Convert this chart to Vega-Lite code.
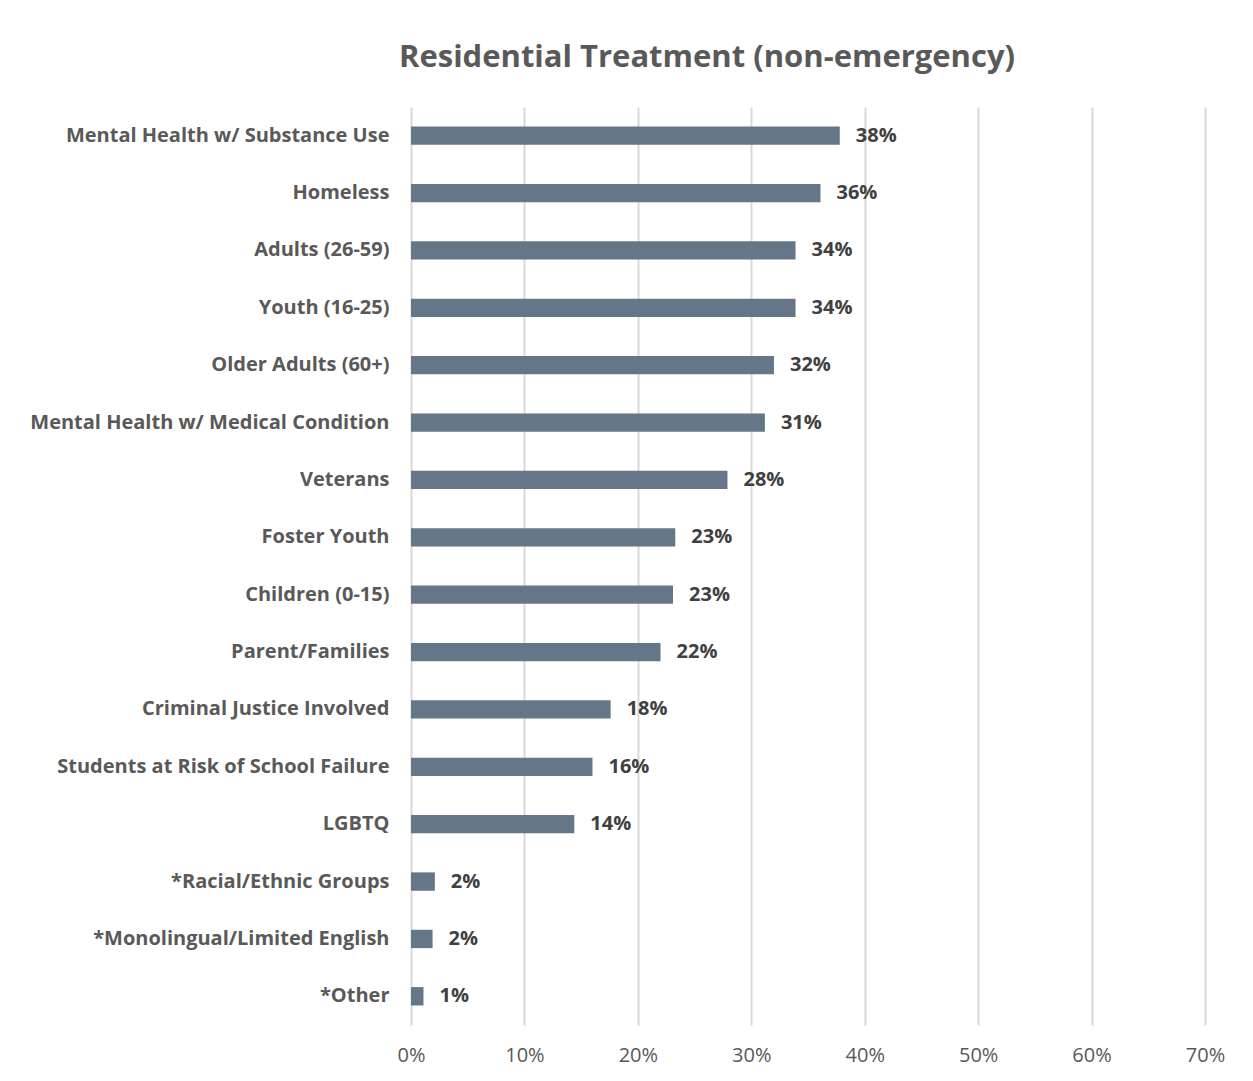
{
  "$schema": "https://vega.github.io/schema/vega-lite/v6.json",
  "autosize": {"type": "none"},
  "width": 794,
  "height": 918,
  "padding": {"left": 411, "top": 107, "right": 48, "bottom": 56},
  "background": "white",
  "title": {
    "text": "Residential Treatment (non-emergency)",
    "anchor": "middle",
    "frame": "group",
    "dx": -101,
    "offset": 33,
    "font": "Open Sans",
    "fontSize": 31,
    "fontWeight": "bold",
    "color": "#595959"
  },
  "data": {
    "values": [
      {"group": "Mental Health w/ Substance Use", "value": 0.378},
      {"group": "Homeless", "value": 0.361},
      {"group": "Adults (26-59)", "value": 0.339},
      {"group": "Youth (16-25)", "value": 0.339},
      {"group": "Older Adults (60+)", "value": 0.32},
      {"group": "Mental Health w/ Medical Condition", "value": 0.312},
      {"group": "Veterans", "value": 0.279},
      {"group": "Foster Youth", "value": 0.233},
      {"group": "Children (0-15)", "value": 0.231},
      {"group": "Parent/Families", "value": 0.22},
      {"group": "Criminal Justice Involved", "value": 0.176},
      {"group": "Students at Risk of School Failure", "value": 0.16},
      {"group": "LGBTQ", "value": 0.144},
      {"group": "*Racial/Ethnic Groups", "value": 0.021},
      {"group": "*Monolingual/Limited English", "value": 0.019},
      {"group": "*Other", "value": 0.011}
    ]
  },
  "encoding": {
    "y": {
      "field": "group",
      "type": "nominal",
      "sort": null,
      "scale": {"paddingInner": 0.68, "paddingOuter": 0.34},
      "axis": {
        "title": null,
        "domain": false,
        "ticks": false,
        "labelPadding": 22,
        "labelFont": "Open Sans",
        "labelFontSize": 20,
        "labelFontWeight": "bold",
        "labelColor": "#595959",
        "labelLimit": 420
      }
    },
    "x": {
      "field": "value",
      "type": "quantitative",
      "scale": {"domain": [0, 0.7]},
      "axis": {
        "title": null,
        "format": ".0%",
        "values": [0, 0.1, 0.2, 0.3, 0.4, 0.5, 0.6, 0.7],
        "domain": false,
        "ticks": false,
        "grid": true,
        "gridColor": "#d9d9d9",
        "gridWidth": 2,
        "labelFlush": false,
        "labelPadding": 20,
        "labelFont": "Open Sans",
        "labelFontSize": 20,
        "labelColor": "#595959"
      }
    }
  },
  "layer": [
    {"mark": {"type": "bar", "color": "#647687"}},
    {
      "mark": {"type": "text", "align": "left", "dx": 16, "font": "Open Sans", "fontSize": 20, "fontWeight": "bold", "color": "#404040"},
      "encoding": {"text": {"field": "value", "format": ".0%"}}
    }
  ],
  "config": {"view": {"stroke": null}}
}
